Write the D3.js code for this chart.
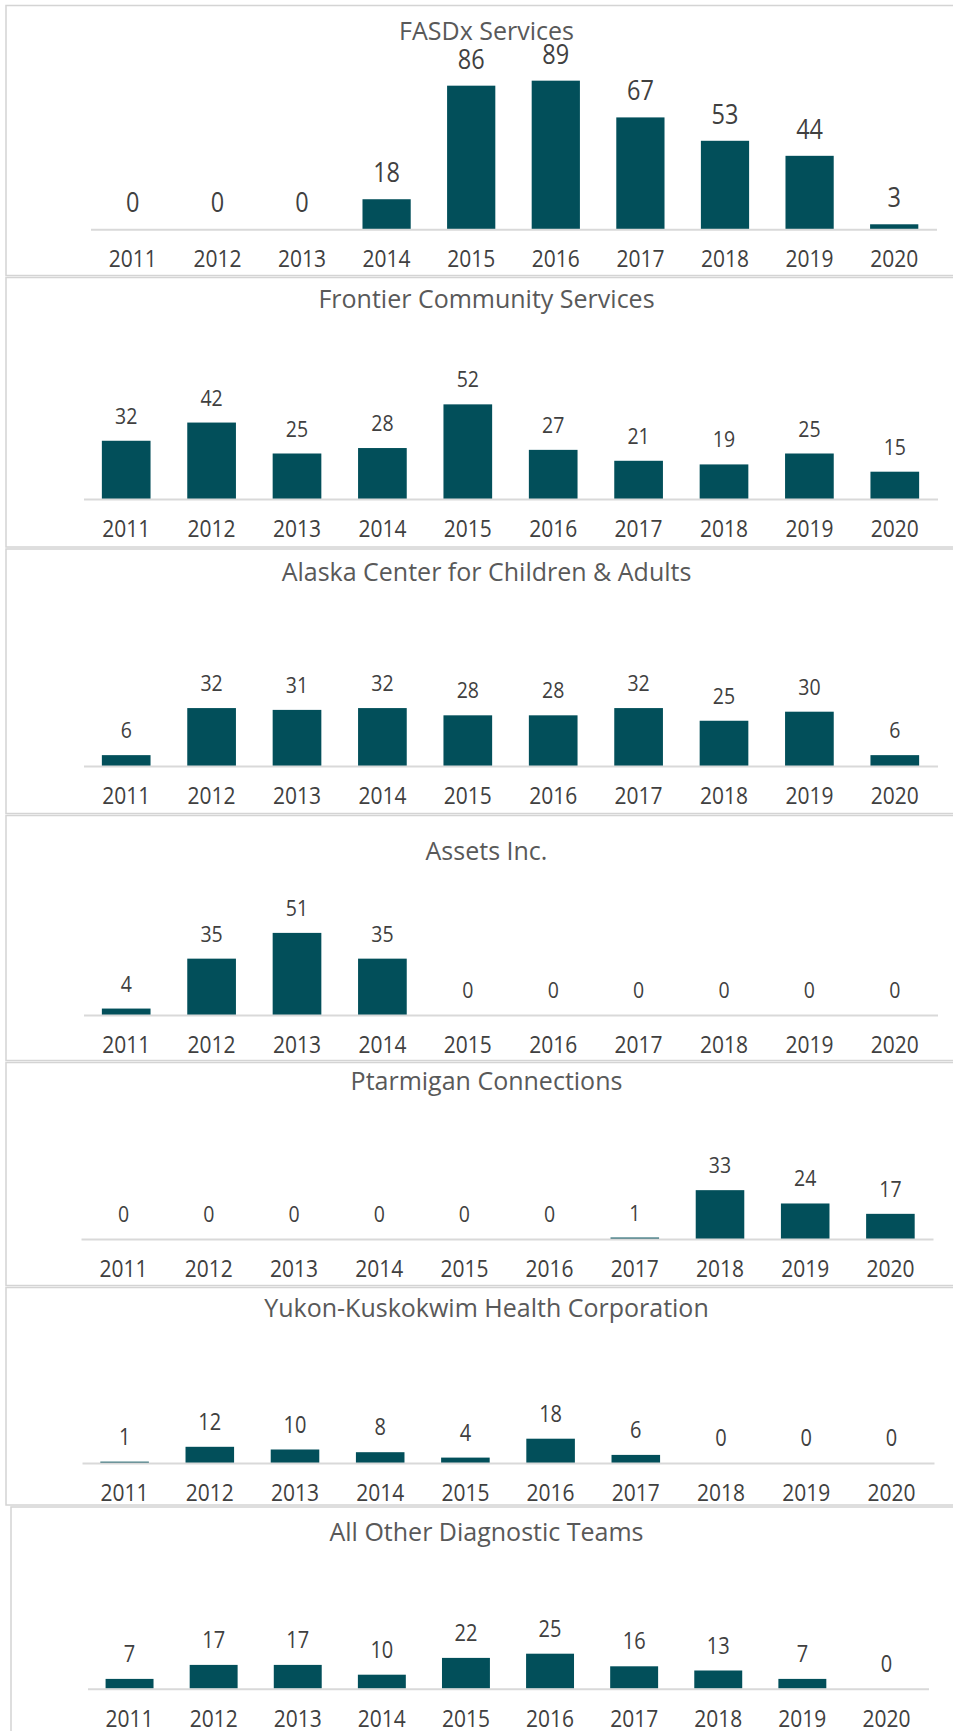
<!DOCTYPE html>
<html>
<head>
<meta charset="utf-8">
<script src="https://cdn.jsdelivr.net/npm/d3@7"></script>
<style>
  body { margin: 0; background: #fff; }
  svg { display: block; font-family: "Open Sans", "Noto Sans", sans-serif; }
</style>
</head>
<body>
<div id="chart"></div>
<script>
// tick labels
var years = ["2011", "2012", "2013", "2014", "2015", "2016", "2017", "2018", "2019", "2020"];

// panel titles
var teams = ["FASDx Services", "Frontier Community Services", "Alaska Center for Children & Adults",
             "Assets Inc.", "Ptarmigan Connections", "Yukon-Kuskokwim Health Corporation",
             "All Other Diagnostic Teams"];

// series values, one per team
var fasdx        = [0, 0, 0, 18, 86, 89, 67, 53, 44, 3];
var frontier     = [32, 42, 25, 28, 52, 27, 21, 19, 25, 15];
var alaskaCenter = [6, 32, 31, 32, 28, 28, 32, 25, 30, 6];
var assets       = [4, 35, 51, 35, 0, 0, 0, 0, 0, 0];
var ptarmigan    = [0, 0, 0, 0, 0, 0, 1, 33, 24, 17];
var ykhc         = [1, 12, 10, 8, 4, 18, 6, 0, 0, 0];
var allOther     = [7, 17, 17, 10, 22, 25, 16, 13, 7, 0];

var series = [fasdx, frontier, alaskaCenter, assets, ptarmigan, ykhc, allOther];

// each pasted panel has its own size and scale
var layout = [
  {left: 6,  top: 5.5,  bottom: 275.5, titleY: 40,    axisY: 229.3, yMax: 100, plotTop: 62.3,   x0: 90.5, x1: 936.5, valSize: 23.5},
  {left: 6,  top: 277.5, bottom: 547,  titleY: 308,   axisY: 499,   yMax: 60,  plotTop: 389.8,  x0: 83.5, x1: 937.5, valSize: 19.5},
  {left: 6,  top: 549,  bottom: 813.5, titleY: 581,   axisY: 766,   yMax: 40,  plotTop: 693.6,  x0: 83.5, x1: 937.5, valSize: 19.5},
  {left: 6,  top: 815.5, bottom: 1060.5, titleY: 859.5, axisY: 1015, yMax: 60, plotTop: 918.4, x0: 83.5, x1: 937.5, valSize: 19.5},
  {left: 6,  top: 1062.5, bottom: 1285.5, titleY: 1090, axisY: 1239, yMax: 40, plotTop: 1179.8, x0: 81,  x1: 933,   valSize: 19.5},
  {left: 6,  top: 1287.5, bottom: 1505, titleY: 1316.7, axisY: 1463, yMax: 20, plotTop: 1436,   x0: 82,  x1: 934,   valSize: 20},
  {left: 11, top: 1507, bottom: 1760,  titleY: 1541,  axisY: 1688.7, yMax: 30, plotTop: 1646.7, x0: 87.5, x1: 928.5, valSize: 20}
];

var w = 953, h = 1731;
var barColor = "#024f5a";
var textColor = "#404040";
var valStretch = 1.15;   // numbers in the source are a bit taller than Open Sans
var yearStretch = 1.12;

var svg = d3.select("#chart").append("svg")
    .attr("width", w)
    .attr("height", h);

series.forEach(function(values, k) {
    var L = layout[k];
    var g = svg.append("g");

    // panel frame
    g.append("rect")
        .attr("x", L.left)
        .attr("y", L.top)
        .attr("width", w + 20 - L.left)
        .attr("height", L.bottom - L.top)
        .attr("fill", "#fff")
        .attr("stroke", "#d4d4d4")
        .attr("stroke-width", 1.5);

    var xscale = d3.scaleBand()
        .domain(years)
        .range([L.x0, L.x1])
        .paddingInner(0.43)
        .paddingOuter(0.215);

    var yscale = d3.scaleLinear()
        .domain([0, L.yMax])
        .range([L.axisY, L.plotTop]);

    g.append("text")
        .attr("x", 486.5)
        .attr("y", L.titleY)
        .attr("text-anchor", "middle")
        .attr("fill", "#595959")
        .style("font-size", "25px")
        .text(teams[k]);

    g.selectAll("rect.bar")
        .data(values)
        .enter()
        .append("rect")
        .attr("class", "bar")
        .attr("x", function(d, i) { return xscale(years[i]); })
        .attr("y", function(d) { return yscale(d); })
        .attr("width", xscale.bandwidth())
        .attr("height", function(d) { return L.axisY - yscale(d); })
        .attr("fill", barColor);

    g.selectAll("text.val")
        .data(values)
        .enter()
        .append("text")
        .attr("class", "val")
        .attr("transform", function(d, i) {
            var cx = xscale(years[i]) + xscale.bandwidth() / 2;
            return "translate(" + cx + "," + (yscale(d) - 17) + ") scale(1," + valStretch + ")";
        })
        .attr("text-anchor", "middle")
        .attr("fill", textColor)
        .style("font-size", L.valSize + "px")
        .text(function(d) { return d; });

    // category axis: light baseline, no ticks
    var xAxis = d3.axisBottom(xscale).tickSize(0).tickPadding(0);
    var ax = g.append("g")
        .attr("transform", "translate(0," + L.axisY + ")")
        .call(xAxis);
    ax.select(".domain")
        .attr("stroke", "#d9d9d9")
        .attr("stroke-width", 2);
    ax.selectAll(".tick text")
        .attr("dy", 0)
        .attr("y", 0)
        .attr("transform", "translate(0,38) scale(1," + yearStretch + ")")
        .attr("fill", textColor)
        .style("font-family", "'Open Sans', 'Noto Sans', sans-serif")
        .style("font-size", "21px");
});
</script>
</body>
</html>
